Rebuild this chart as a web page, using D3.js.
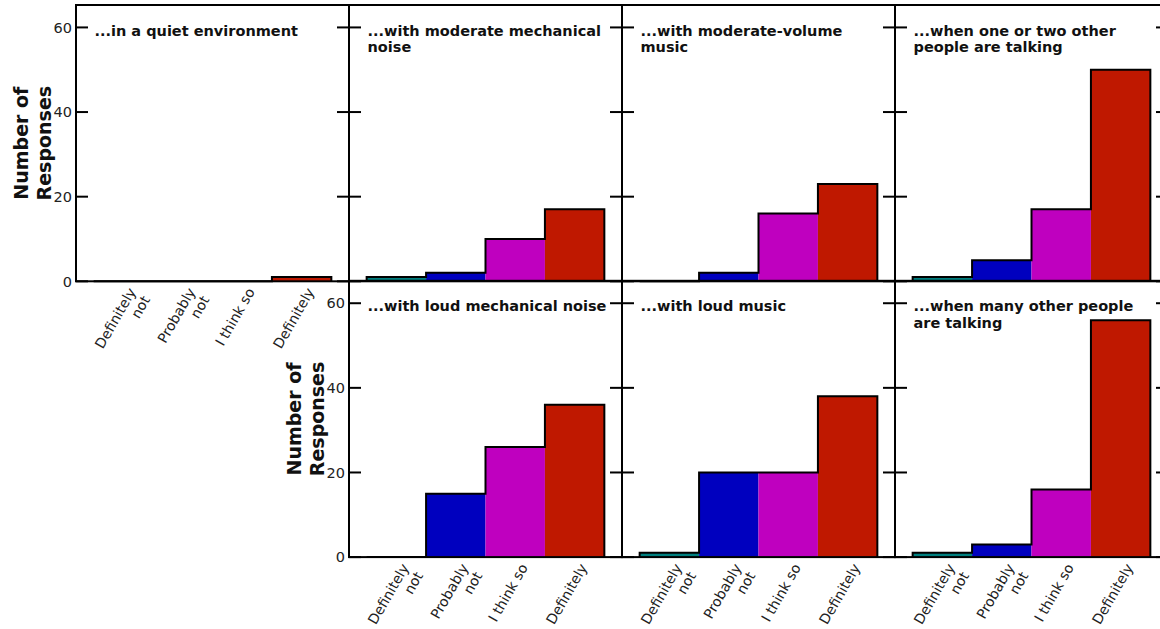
<!DOCTYPE html>
<html>
<head>
<meta charset="utf-8">
<script src="https://cdn.jsdelivr.net/npm/d3@7"></script>
<style>
  body { margin: 0; background: white; }
  text { font-family: "DejaVu Sans", sans-serif; }
</style>
</head>
<body>
<div id="container"></div>
<script>
const categories = ['Definitely not', 'Probably not', 'I think so', 'Definitely'];
const tickLabels = [['Definitely', 'not'], ['Probably', 'not'], ['I think so'], ['Definitely']];
const barColors = ['#007f7f', '#0000bf', '#bf00bf', '#bf1800'];
const yTicks = [0, 20, 40, 60];

const quietEnv = [0, 0, 0, 1];
const moderateNoise = [1, 2, 10, 17];
const moderateMusic = [0, 2, 16, 23];
const fewTalking = [1, 5, 17, 50];
const loudNoise = [0, 15, 26, 36];
const loudMusic = [1, 20, 20, 38];
const manyTalking = [1, 3, 16, 56];

const panelTitles = [
  ['...in a quiet environment'],
  ['...with moderate mechanical', 'noise'],
  ['...with moderate-volume', 'music'],
  ['...when one or two other', 'people are talking'],
  ['...with loud mechanical noise'],
  ['...with loud music'],
  ['...when many other people', 'are talking']
];
const panelValues = [quietEnv, moderateNoise, moderateMusic, fewTalking, loudNoise, loudMusic, manyTalking];
// grid slot (row, col) for each panel
const panelRows = [0, 0, 0, 0, 1, 1, 1];
const panelCols = [0, 1, 2, 3, 1, 2, 3];

const LEFT = 76;
const TOP = 5;
const PANEL_W = 273;
const PANEL_H = 276.3;
const TICK_LEN = 12;

const svg = d3.select('#container')
  .append('svg')
  .attr('width', 1160)
  .attr('height', 629)
  .style('background-color', 'white');

const x = d3.scaleBand()
  .domain(categories)
  .range([0, PANEL_W])
  .paddingInner(0)
  .paddingOuter(0.297);

const y = d3.scaleLinear()
  .domain([0, 65.3])
  .range([PANEL_H, 0]);

panelValues.forEach((values, i) => {
  const row = panelRows[i];
  const col = panelCols[i];
  const g = svg.append('g')
    .attr('transform', `translate(${LEFT + col * PANEL_W},${TOP + row * (PANEL_H - 0.5)})`);

  // bars, no stroke
  g.selectAll('rect.bar')
    .data(values)
    .join('rect')
    .attr('class', 'bar')
    .attr('x', (d, j) => x(categories[j]))
    .attr('y', d => y(d))
    .attr('width', x.bandwidth())
    .attr('height', d => y(0) - y(d))
    .style('fill', (d, j) => barColors[j]);

  // step outline round the whole histogram
  const pts = [[x(categories[0]), y(0)]];
  values.forEach((v, j) => {
    pts.push([x(categories[j]), y(v)]);
    pts.push([x(categories[j]) + x.bandwidth(), y(v)]);
  });
  pts.push([x(categories[3]) + x.bandwidth(), y(0)]);
  g.append('path')
    .attr('d', d3.line()(pts))
    .style('fill', 'none')
    .style('stroke', 'black')
    .style('stroke-width', 2)
    .style('stroke-linejoin', 'miter');

  // ticks inward on both sides
  yTicks.forEach(t => {
    g.append('line')
      .attr('x1', 0).attr('x2', TICK_LEN)
      .attr('y1', y(t)).attr('y2', y(t))
      .style('stroke', 'black').style('stroke-width', 2);
    g.append('line')
      .attr('x1', PANEL_W - TICK_LEN).attr('x2', PANEL_W)
      .attr('y1', y(t)).attr('y2', y(t))
      .style('stroke', 'black').style('stroke-width', 2);
  });

  // frame
  g.append('rect')
    .attr('x', 0).attr('y', 0)
    .attr('width', PANEL_W).attr('height', PANEL_H)
    .style('fill', 'none')
    .style('stroke', 'black')
    .style('stroke-width', 2);

  // title
  const title = g.append('text')
    .attr('x', 18.5)
    .attr('y', 30.5)
    .style('font-size', '14.5px')
    .style('font-weight', 'bold')
    .style('fill', '#111');
  panelTitles[i].forEach((line, k) => {
    title.append('tspan')
      .attr('x', 18.5)
      .attr('dy', k === 0 ? 0 : 16.5)
      .text(line);
  });

  // y tick labels and axis title on the first panel of each row
  if (col === row) {
    yTicks.forEach(t => {
      g.append('text')
        .attr('x', -4)
        .attr('y', y(t))
        .attr('dy', '0.36em')
        .attr('text-anchor', 'end')
        .style('font-size', '14.5px')
        .style('fill', '#222')
        .text(t);
    });
    const yl = g.append('text')
      .attr('transform', `translate(-48,${PANEL_H / 2}) rotate(-90)`)
      .attr('text-anchor', 'middle')
      .style('font-size', '19px')
      .style('font-weight', 'bold')
      .style('fill', '#111');
    yl.append('tspan').attr('x', 0).attr('dy', 0).text('Number of');
    yl.append('tspan').attr('x', 0).attr('dy', 23).text('Responses');
  }

  // x tick labels only where no panel sits below
  if (row === 1 || col === 0) {
    categories.forEach((c, j) => {
      const cx = x(c) + x.bandwidth() / 2;
      const lbl = g.append('text')
        .attr('transform', `translate(${cx + 4},${PANEL_H + 5}) rotate(-60)`)
        .attr('text-anchor', 'end')
        .style('font-size', '14px')
        .style('fill', '#222');
      tickLabels[j].forEach((line, k) => {
        lbl.append('tspan')
          .attr('x', 0)
          .attr('dy', k === 0 ? '0.75em' : '1.15em')
          .text(line);
      });
    });
  }
});
</script>
</body>
</html>
